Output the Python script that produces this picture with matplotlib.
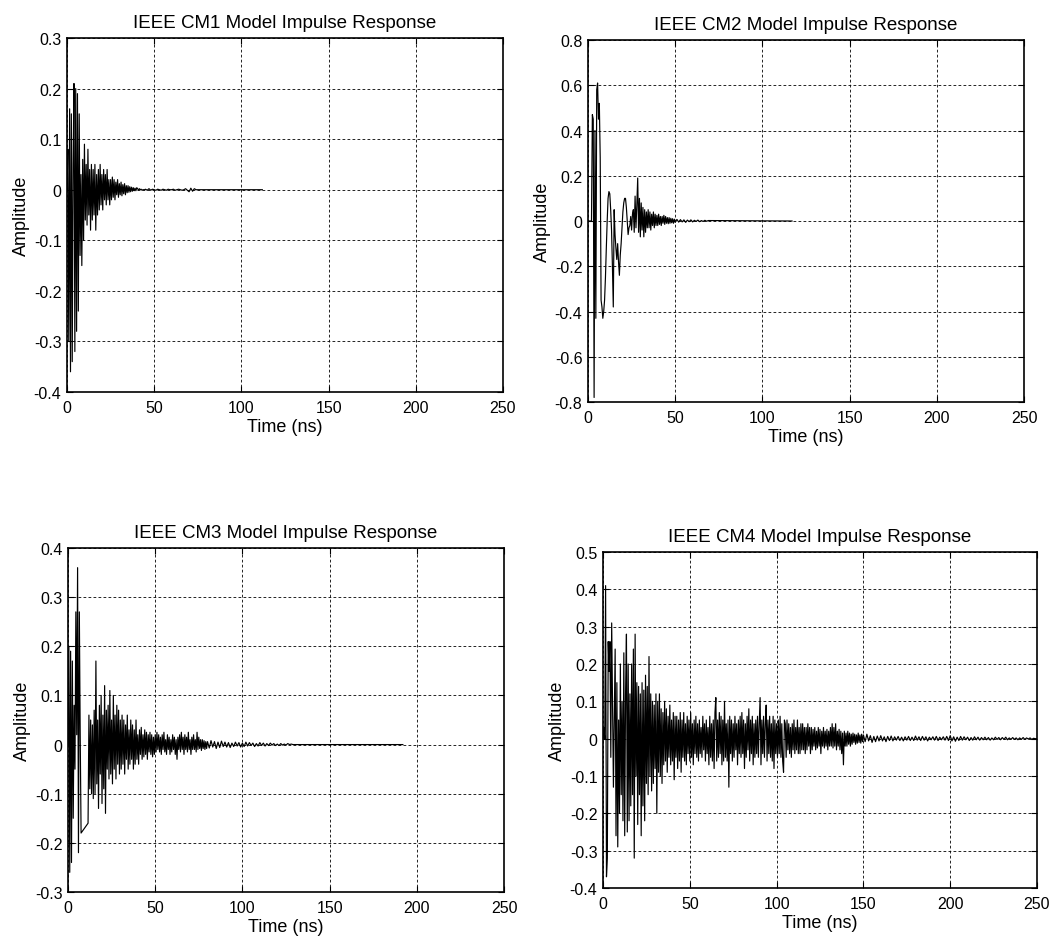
import numpy as np
import matplotlib.pyplot as plt

plt.rcParams['font.family'] = ['Liberation Sans', 'DejaVu Sans']
plt.rcParams['lines.scale_dashes'] = False

# amplitude samples
# dense part every 0.5 ns, quiet tail every 1 ns, then flat zero up to *_end
DT_FINE = 0.5
DT_TAIL = 1.0

# ---------------- CM1 ----------------
cm1_amp = [
    0.0, 0.08, -0.30, 0.16, -0.36, 0.15, -0.34, 0.05, 0.21, -0.32,
    0.20, -0.28, 0.19, -0.24, 0.15, -0.13, 0.03, -0.15, 0.06, -0.10,
    0.09, -0.06, 0.05, -0.07, 0.08, -0.05, 0.04, -0.08, 0.05, -0.06,
    0.04, -0.05, 0.05, -0.08, 0.03, -0.05, 0.04, -0.04, 0.05, -0.03,
    0.03, -0.04, 0.04, -0.02, 0.03, -0.03, 0.04, -0.02, 0.02, -0.03,
    0.02, -0.02, 0.025, -0.015, 0.02, -0.02, 0.015, -0.01, 0.02, -0.015,
    0.012, -0.01, 0.015, -0.012, 0.01, -0.008, 0.012, -0.01, 0.008, -0.006,
    0.008, -0.005, 0.006, -0.004, 0.005, -0.003, 0.004, -0.002, 0.003, -0.002,
    0.004, 0.002, -0.001, 0.002, 0.0, 0.001, -0.001, 0.0, 0.0, 0.0,
]
cm1_tail_start = 45.0
cm1_tail = [
    0.001, -0.001, 0.002, -0.001, 0.001, 0.0, -0.001, 0.001, 0.0, -0.001,
    0.001, 0.0, -0.001, 0.001, 0.0, 0.0, 0.001, -0.001, 0.0, 0.001,
    0.0, -0.001, 0.0, 0.002, -0.001, -0.004, 0.003, -0.003, 0.002, 0.0,
]
cm1_end = 112.0

# ---------------- CM2 ----------------
cm2_amp = [
    0.0, 0.0, 0.0, 0.0, 0.0, 0.47, 0.45, -0.78, 0.40, -0.43,
    0.58, 0.61, 0.45, 0.52, 0.28, -0.35, -0.38, -0.43, -0.40, -0.35,
    -0.25, -0.12, 0.0, 0.10, 0.13, 0.12, 0.05, -0.04, -0.20, -0.38,
    0.05, -0.06, -0.12, -0.17, -0.10, -0.18, -0.24, -0.15, -0.10, -0.03,
    0.04, 0.08, 0.10, 0.10, 0.06, 0.0, -0.06, -0.03, -0.02, 0.02,
    -0.04, 0.03, 0.05, -0.05, 0.11, -0.03, 0.07, 0.19, -0.05, 0.10,
    -0.07, 0.08, -0.04, 0.06, -0.07, 0.05, -0.05, 0.04, -0.03, 0.05,
    -0.03, 0.04, -0.04, 0.03, -0.02, 0.04, -0.03, 0.03, -0.02, 0.025,
    -0.02, 0.03, -0.015, 0.02, -0.02, 0.02, -0.01, 0.025, -0.015, 0.02,
    -0.01, 0.015, -0.012, 0.015, -0.01, 0.012, -0.008, 0.01, -0.01, 0.008,
]
cm2_tail_start = 50.0
cm2_tail = [
    -0.006, 0.007, -0.005, 0.006, -0.004, 0.005, -0.006, 0.004, -0.003, 0.005,
    -0.004, 0.003, -0.002, 0.004, -0.003, 0.002, -0.002, 0.003, -0.001, 0.002,
]
cm2_end = 117.0

# ---------------- CM3 ----------------
# first arrivals, with the straight jump from 7.5 to 11.5 ns
cm3_head_t = [0, 0.5, 1, 1.5, 2, 2.5, 3, 3.5, 4, 4.5, 5, 5.5, 6, 6.5, 7, 7.5, 11.5]
cm3_head_y = [0.0, 0.20, -0.26, 0.19, -0.24, 0.17, -0.15, 0.08, -0.05, 0.27,
              0.02, 0.36, -0.22, 0.27, 0.02, -0.18, -0.16]
cm3_amp_start = 12.0
cm3_amp = [
    0.06, -0.09, 0.05, -0.10, 0.04, -0.11, 0.07, -0.10, 0.17, -0.08,
    0.05, -0.13, 0.08, -0.06, 0.10, -0.12, 0.06, -0.09, 0.12, -0.14,
    0.07, -0.05, 0.08, -0.07, 0.11, -0.06, 0.05, -0.08, 0.10, -0.05,
    0.06, -0.07, 0.08, -0.04, 0.07, -0.06, 0.05, -0.05, 0.06, -0.04,
    0.05, -0.06, 0.04, -0.03, 0.06, -0.05, 0.03, -0.04, 0.05, -0.03,
    0.04, -0.05, 0.03, -0.04, 0.05, -0.03, 0.02, -0.04, 0.03, -0.02,
    0.035, -0.03, 0.02, -0.025, 0.03, -0.02, 0.025, -0.03, 0.02, -0.015,
    0.025, -0.02, 0.02, -0.025, 0.015, -0.02, 0.02, -0.015, 0.025, -0.01,
    0.02, -0.015, 0.015, -0.02, 0.02, -0.01, 0.025, -0.015, 0.01, -0.02,
    0.02, -0.01, 0.015, -0.02, 0.01, -0.015, 0.02, -0.01, 0.015, -0.02,
    0.01, -0.03, 0.015, -0.01, 0.02, -0.015, 0.025, -0.01, 0.015, -0.02,
    0.02, -0.01, 0.015, -0.015, 0.025, -0.01, 0.01, -0.02, 0.015, -0.01,
    0.02, -0.01, 0.01, -0.015, 0.025, -0.01, 0.015, -0.008, 0.01, -0.012,
    0.01, -0.008, 0.008, -0.01, 0.006, -0.008,
]
cm3_tail_start = 80.0
cm3_tail = [
    0.006, -0.007, 0.008, -0.005, 0.006, -0.008, 0.005, -0.006, 0.007, -0.004,
    0.005, -0.005, 0.004, -0.006, 0.003, -0.004, 0.005, -0.003, 0.004, -0.005,
    0.003, -0.004, 0.005, -0.003, 0.004, -0.002, 0.003, -0.004, 0.002, -0.003,
    0.004, -0.002, 0.003, -0.003, 0.002, -0.002, 0.003, -0.001, 0.002, -0.002,
    0.001, -0.002, 0.002, -0.001, 0.001, -0.001, 0.002, 0.0, 0.001, 0.0,
]
cm3_end = 192.0

# ---------------- CM4 ----------------
cm4_amp = [
    0.0, 0.03, 0.0, 0.41, -0.37, -0.32, 0.26, 0.18, 0.26, -0.05,
    0.31, 0.10, -0.13, 0.05, 0.24, -0.26, 0.15, -0.29, 0.05, -0.20,
    0.20, -0.15, 0.10, -0.22, 0.23, -0.26, 0.12, 0.28, -0.25, 0.20,
    -0.22, 0.12, -0.18, 0.20, -0.15, 0.24, -0.32, 0.28, -0.10, 0.15,
    -0.23, 0.14, -0.15, 0.12, -0.26, 0.15, -0.18, 0.13, -0.22, 0.17,
    -0.12, 0.14, -0.15, 0.22, -0.10, 0.12, -0.14, 0.10, -0.12, 0.09,
    -0.08, 0.12, -0.20, 0.10, -0.09, 0.12, -0.10, 0.08, -0.12, 0.07,
    -0.07, 0.10, -0.06, 0.08, -0.09, 0.06, -0.05, 0.09, -0.07, 0.05,
    -0.06, 0.07, -0.11, 0.06, -0.05, 0.06, -0.08, 0.05, -0.06, 0.07,
    -0.09, 0.05, -0.05, 0.07, -0.06, 0.04, -0.07, 0.06, -0.04, 0.05,
    -0.06, 0.07, -0.05, 0.04, -0.07, 0.05, -0.04, 0.06, -0.05, 0.04,
    -0.06, 0.05, -0.04, 0.03, -0.05, 0.06, -0.03, 0.04, -0.06, 0.05,
    -0.04, 0.03, -0.07, 0.06, -0.05, 0.04, -0.06, 0.05, -0.08, 0.07,
    0.11, -0.06, 0.05, -0.05, 0.07, -0.04, 0.06, -0.07, 0.05, -0.06,
    0.10, -0.05, 0.04, -0.06, 0.05, -0.13, 0.06, -0.04, 0.05, -0.06,
    0.04, -0.05, 0.06, -0.03, 0.04, -0.07, 0.05, -0.04, 0.06, -0.05,
    0.07, -0.04, 0.05, -0.08, 0.04, -0.05, 0.06, -0.03, 0.08, -0.06,
    0.05, -0.04, 0.06, -0.07, 0.04, -0.05, 0.05, -0.04, 0.06, -0.05,
    0.04, 0.11, -0.07, 0.05, -0.04, 0.06, -0.05, 0.04, 0.09, -0.06,
    0.05, -0.04, 0.06, -0.05, 0.04, -0.06, 0.06, -0.08, 0.05, -0.04,
    0.04, -0.05, 0.05, -0.04, 0.06, -0.05, 0.04, -0.06, -0.09, 0.05,
    0.04, -0.05, 0.05, -0.03, 0.04, -0.04, 0.03, -0.05, 0.04, -0.03,
    0.05, -0.04, 0.03, -0.03, 0.05, -0.04, 0.03, -0.04, 0.04, -0.03,
    0.04, -0.03, 0.03, -0.04, 0.03, -0.03, 0.04, -0.02, 0.03, -0.04,
    0.03, -0.03, 0.025, -0.02, 0.03, -0.03, 0.02, -0.025, 0.03, -0.02,
    0.025, -0.04, 0.02, -0.02, 0.03, -0.025, 0.02, -0.02, 0.025, -0.03,
    0.02, -0.02, 0.03, -0.02, 0.04, -0.025, 0.03, -0.02, 0.04, -0.03,
    0.02, -0.02, 0.025, -0.03, 0.02, -0.04, 0.015, -0.07, 0.02, -0.02,
    0.015, -0.02, 0.02, -0.015, 0.015, -0.02, 0.012, -0.015, 0.015, -0.01,
    0.012, -0.015, 0.01, -0.012, 0.015, -0.01, 0.01, -0.012, 0.012, -0.008,
]
cm4_tail_start = 150.0
cm4_tail = [
    0.010, -0.008, 0.012, -0.006, 0.008, -0.010, 0.006, -0.008, 0.007, -0.006,
    0.008, -0.006, 0.005, -0.008, 0.006, -0.005, 0.007, -0.006, 0.005, -0.004,
    0.006, -0.005, 0.004, -0.006, 0.005, -0.004, 0.006, -0.005, 0.004, -0.005,
    0.007, -0.004, 0.005, -0.005, 0.006, -0.004, 0.005, -0.006, 0.004, -0.003,
    0.005, -0.004, 0.006, -0.005, 0.004, -0.003, 0.005, -0.004, 0.006, -0.005,
    0.008, -0.006, 0.005, -0.007, 0.004, -0.005, 0.006, -0.004, 0.005, -0.003,
    0.004, -0.005, 0.003, -0.004, 0.005, -0.003, 0.004, -0.004, 0.003, -0.003,
    0.004, -0.003, 0.003, -0.004, 0.002, -0.003, 0.004, -0.002, 0.003, -0.003,
    0.003, -0.002, 0.004, -0.003, 0.002, -0.002, 0.003, -0.002, 0.002, -0.003,
    0.002, -0.002, 0.003, -0.002, 0.002, -0.001, 0.002, -0.002, 0.001, 0.0,
]
cm4_end = 250.0

titles = ["IEEE CM1 Model Impulse Response", "IEEE CM2 Model Impulse Response",
          "IEEE CM3 Model Impulse Response", "IEEE CM4 Model Impulse Response"]
ylims = [(-0.4, 0.3), (-0.8, 0.8), (-0.3, 0.4), (-0.4, 0.5)]
ysteps = [0.1, 0.2, 0.1, 0.1]
xticks = [0, 50, 100, 150, 200, 250]


def build(head_t, head_y, amp_start, amp, tail_start, tail, t_end):
    # stitch the pieces into one time/amplitude series
    t = list(head_t)
    t += list(amp_start + DT_FINE * np.arange(len(amp)))
    t += list(tail_start + DT_TAIL * np.arange(len(tail)))
    t += [t_end]
    y = list(head_y) + list(amp) + list(tail) + [0.0]
    return np.array(t), np.array(y)


series = [
    build([], [], 0.0, cm1_amp, cm1_tail_start, cm1_tail, cm1_end),
    build([], [], 0.0, cm2_amp, cm2_tail_start, cm2_tail, cm2_end),
    build(cm3_head_t, cm3_head_y, cm3_amp_start, cm3_amp, cm3_tail_start, cm3_tail, cm3_end),
    build([], [], 0.0, cm4_amp, cm4_tail_start, cm4_tail, cm4_end),
]

# axes boxes in pixels (left, top, right, bottom) of a 1056x937 figure
W, H = 1056, 937
boxes = [(67, 39, 503, 393), (588, 41, 1024, 403),
         (68, 549, 504, 893), (603, 553, 1037, 889)]

fig = plt.figure(figsize=(W / 100, H / 100), dpi=100)

for i in range(4):
    l, tp, r, b = boxes[i]
    ax = fig.add_axes([l / W, 1 - b / H, (r - l) / W, (b - tp) / H])
    t, y = series[i]
    ax.plot(t, y, color='black', lw=0.85)

    lo, hi = ylims[i]
    yt = np.round(np.arange(lo, hi + ysteps[i] / 2, ysteps[i]), 1)
    ax.set_xlim(0, 250)
    ax.set_ylim(lo, hi)
    ax.set_xticks(xticks)
    ax.set_xticklabels([str(v) for v in xticks])
    ax.set_yticks(yt)
    ax.set_yticklabels(["0" if v == 0 else f"{v:g}" for v in yt])

    ax.grid(True, color='black', linestyle=(0, (2.0, 1.6)), linewidth=0.6)
    ax.tick_params(direction='in', top=True, right=True, length=4, width=0.8,
                   labelsize=11.5, colors='black')
    ax.tick_params(axis='x', pad=6)
    ax.tick_params(axis='y', pad=4)
    for s in ax.spines.values():
        s.set_linewidth(1.2)

    ax.set_title(titles[i], fontsize=13.5, pad=8)
    ax.set_xlabel("Time (ns)", fontsize=13, labelpad=2)
    ax.set_ylabel("Amplitude", fontsize=13, labelpad=3)

fig.savefig("out.png", dpi=100, facecolor='white')
